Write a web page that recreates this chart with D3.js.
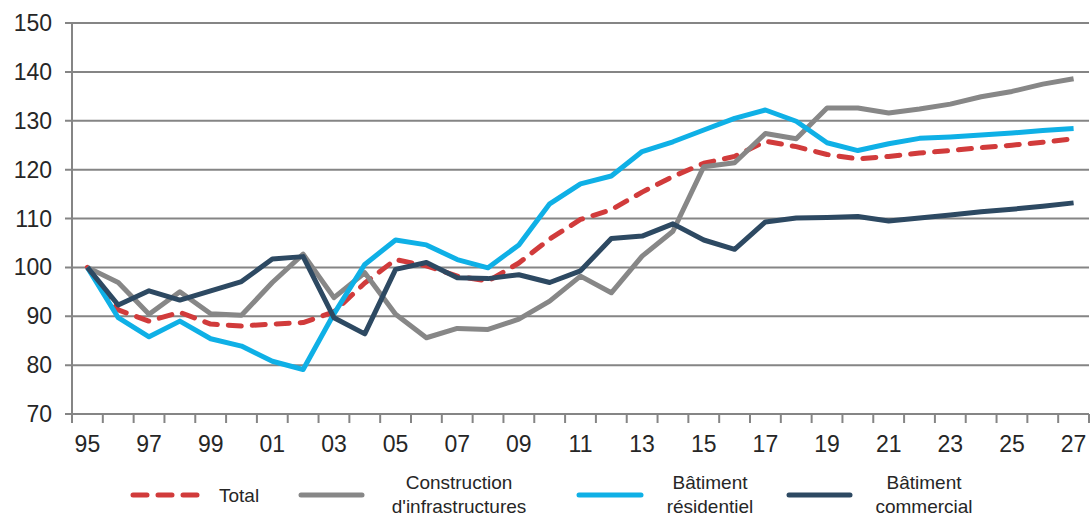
<!DOCTYPE html>
<html>
<head>
<meta charset="utf-8">
<script src="https://cdn.jsdelivr.net/npm/d3@7/dist/d3.min.js"></script>
<style>
  body { margin: 0; background: #fff; }
  svg { display: block; font-family: "Liberation Sans", Arial, sans-serif; }
</style>
</head>
<body>
<svg id="chart"></svg>
<script>
// Years shown on the x axis (two digit labels)
const years = ['95','96','97','98','99','00','01','02','03','04','05','06','07','08','09','10',
  '11','12','13','14','15','16','17','18','19','20','21','22','23','24','25','26','27'];

const total = [100, 91.3, 89.0, 90.8, 88.4, 88.0, 88.4, 88.7, 90.9, 96.8, 101.6, 100.3, 98.2, 97.2,
  100.9, 105.8, 109.8, 111.8, 115.4, 118.6, 121.3, 122.7, 125.8, 124.7, 123.1, 122.2, 122.7,
  123.4, 123.9, 124.5, 125.0, 125.6, 126.3];

const infrastructures = [100, 96.9, 90.4, 95.0, 90.5, 90.2, 96.9, 102.7, 93.8, 98.9, 90.4, 85.6,
  87.5, 87.3, 89.4, 93.1, 98.2, 94.8, 102.3, 107.4, 120.6, 121.4, 127.4, 126.3, 132.6, 132.6,
  131.6, 132.4, 133.4, 134.9, 136.0, 137.5, 138.6];

const residentiel = [100, 89.7, 85.8, 89.0, 85.4, 83.9, 80.8, 79.1, 90.5, 100.6, 105.6, 104.6,
  101.6, 99.9, 104.6, 113.0, 117.1, 118.7, 123.7, 125.7, 128.1, 130.5, 132.2, 129.9, 125.5,
  123.9, 125.3, 126.4, 126.7, 127.1, 127.5, 128.0, 128.4];

const commercial = [100, 92.3, 95.2, 93.3, 95.2, 97.1, 101.7, 102.2, 89.7, 86.4, 99.6, 101.0,
  97.9, 97.7, 98.5, 96.9, 99.3, 105.9, 106.4, 108.9, 105.6, 103.7, 109.3, 110.1, 110.2, 110.4,
  109.5, 110.1, 110.7, 111.4, 111.9, 112.5, 113.2];

const yTicks = [70, 80, 90, 100, 110, 120, 130, 140, 150];

const series = [
  { name: ['Total'], values: total, color: '#d13b3b', dash: '13 11' },
  { name: ['Construction', "d'infrastructures"], values: infrastructures, color: '#878787', dash: null },
  { name: ['Bâtiment', 'résidentiel'], values: residentiel, color: '#0fb0e6', dash: null },
  { name: ['Bâtiment', 'commercial'], values: commercial, color: '#2d4962', dash: null }
];

const width = 1092, height = 517;
const axisColor = '#858585';

const svg = d3.select('#chart').attr('width', width).attr('height', height);

const x = d3.scaleBand().domain(years).range([72, 1089]).padding(0);
const y = d3.scaleLinear().domain([70, 150]).range([414, 23]);

// horizontal gridlines
svg.append('g')
  .selectAll('line')
  .data(yTicks)
  .join('line')
  .attr('x1', 65)
  .attr('x2', 1089)
  .attr('y1', d => y(d))
  .attr('y2', d => y(d))
  .attr('stroke', axisColor)
  .attr('stroke-width', 2);

// y axis line
svg.append('line')
  .attr('x1', 72).attr('x2', 72)
  .attr('y1', y(150)).attr('y2', y(70) + 9)
  .attr('stroke', axisColor)
  .attr('stroke-width', 2);

// y tick labels
svg.append('g')
  .selectAll('text')
  .data(yTicks)
  .join('text')
  .attr('x', 52)
  .attr('y', d => y(d))
  .attr('text-anchor', 'end')
  .attr('dominant-baseline', 'central')
  .attr('font-size', 23)
  .attr('fill', '#262626')
  .text(d => d);

// x tick marks at band boundaries
const boundaries = years.map(d => x(d)).concat([x.range()[1]]);
svg.append('g')
  .selectAll('line')
  .data(boundaries)
  .join('line')
  .attr('x1', d => d)
  .attr('x2', d => d)
  .attr('y1', y(70))
  .attr('y2', y(70) + 9)
  .attr('stroke', axisColor)
  .attr('stroke-width', 2);

// x labels every other year
svg.append('g')
  .selectAll('text')
  .data(years.filter((d, i) => i % 2 === 0))
  .join('text')
  .attr('x', d => x(d) + x.bandwidth() / 2)
  .attr('y', 444)
  .attr('text-anchor', 'middle')
  .attr('dominant-baseline', 'central')
  .attr('font-size', 23)
  .attr('fill', '#262626')
  .text(d => d);

// lines
const line = d3.line()
  .x((d, i) => x(years[i]) + x.bandwidth() / 2)
  .y(d => y(d));

svg.append('g')
  .selectAll('path')
  .data(series)
  .join('path')
  .attr('d', d => line(d.values))
  .attr('fill', 'none')
  .attr('stroke', d => d.color)
  .attr('stroke-width', 5)
  .attr('stroke-linejoin', 'round')
  .attr('stroke-linecap', d => d.dash ? 'round' : 'butt')
  .attr('stroke-dasharray', d => d.dash);

// legend
const legendPos = [
  { x1: 133, x2: 197, tx: 219, anchor: 'start' },
  { x1: 301, x2: 362, tx: 459, anchor: 'middle' },
  { x1: 579, x2: 641, tx: 710, anchor: 'middle' },
  { x1: 789, x2: 850, tx: 924, anchor: 'middle' }
];

const legend = svg.append('g')
  .selectAll('g')
  .data(series)
  .join('g');

legend.append('line')
  .attr('x1', (d, i) => legendPos[i].x1)
  .attr('x2', (d, i) => legendPos[i].x2)
  .attr('y1', 495)
  .attr('y2', 495)
  .attr('stroke', d => d.color)
  .attr('stroke-width', 5)
  .attr('stroke-linecap', 'round')
  .attr('stroke-dasharray', d => d.dash ? '14 11' : null);

legend.append('text')
  .attr('x', (d, i) => legendPos[i].tx)
  .attr('text-anchor', (d, i) => legendPos[i].anchor)
  .attr('font-size', 19)
  .attr('fill', '#262626')
  .selectAll('tspan')
  .data(d => d.name.map((t, k, arr) => ({ t, k, n: arr.length })))
  .join('tspan')
  .attr('x', function () { return d3.select(this.parentNode).attr('x'); })
  .attr('y', d => d.n === 1 ? 495 : 482 + d.k * 24)
  .attr('dominant-baseline', 'central')
  .text(d => d.t);
</script>
</body>
</html>
